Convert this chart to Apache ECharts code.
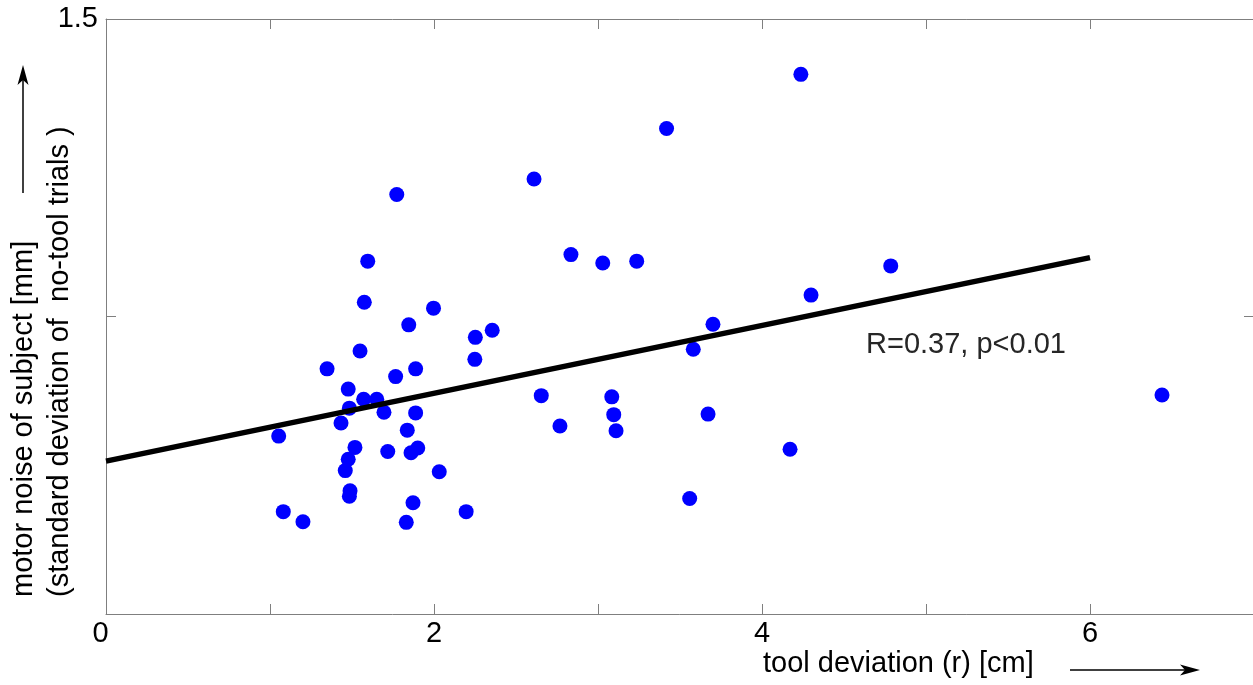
<!DOCTYPE html>
<html>
<head>
<meta charset="utf-8">
<script src="https://cdn.jsdelivr.net/npm/echarts@6/dist/echarts.min.js"></script>
<style>
  html, body { margin: 0; padding: 0; background: #fff; }
  #chart { width: 1253px; height: 685px; }
</style>
</head>
<body>
<div id="chart"></div>
<script>
// ---- Data ----
const toolDeviation = [
  1.053, 1.081, 1.201, 1.348, 1.433, 1.459, 1.477, 1.477, 1.484, 1.488,
  1.484, 1.518, 1.549, 1.575, 1.571, 1.596, 1.651, 1.695, 1.718, 1.766,
  1.773, 1.831, 1.837, 1.846, 1.860, 1.872, 1.888, 1.888, 1.901, 1.997,
  2.032, 2.196, 2.252, 2.249, 2.355, 2.610, 2.654, 2.768, 2.835, 3.029,
  3.084, 3.096, 3.110, 3.236, 3.418, 3.559, 3.581, 3.671, 3.701, 4.171,
  4.237, 4.299, 4.785, 6.439
];
const motorNoise = [
  0.799, 0.672, 0.655, 0.912, 0.821, 0.741, 0.760, 0.878, 0.846, 0.707,
  0.698, 0.780, 0.942, 1.024, 0.861, 1.093, 0.861, 0.839, 0.773, 0.899,
  1.205, 0.654, 0.809, 0.986, 0.771, 0.687, 0.912, 0.838, 0.779, 1.014,
  0.739, 0.672, 0.965, 0.928, 0.977, 1.231, 0.867, 0.816, 1.104, 1.090,
  0.865, 0.835, 0.808, 1.093, 1.316, 0.694, 0.945, 0.836, 0.987, 0.777,
  1.407, 1.036, 1.085, 0.868
];
const fitX = [0, 6];
const fitY = [0.757, 1.099];
const xTickLabels = ['0', '2', '4', '6'];
const yTickLabels = ['1.5'];
const annotation = 'R=0.37, p<0.01';
const xTitle = 'tool deviation (r) [cm]';
const yTitle = 'motor noise of subject [mm]\n(standard deviation of  no-tool trials )';

// ---- Chart ----
const FONT = "'Liberation Sans', Arial, sans-serif";
const chart = echarts.init(document.getElementById('chart'), null, { renderer: 'canvas' });

const scatterData = toolDeviation.map((x, i) => [x, motorNoise[i]]);
const fitData = fitX.map((x, i) => [x, fitY[i]]);

const axisLineStyle = { color: '#7f7f7f', width: 1 };

const option = {
  animation: false,
  backgroundColor: '#ffffff',
  grid: { left: 106, top: 19, width: 1148, height: 595, containLabel: false, outerBoundsMode: 'none' },
  xAxis: [
    {
      type: 'value', position: 'bottom', min: 0, max: 7, interval: 1,
      axisLine: { show: true, lineStyle: axisLineStyle },
      axisTick: { show: true, inside: true, length: 10, lineStyle: axisLineStyle },
      splitLine: { show: false },
      axisLabel: {
        color: '#000', fontFamily: FONT, fontSize: 29, margin: 5,
        formatter: v => {
          const s = String(v);
          if (xTickLabels.indexOf(s) < 0) return '';
          return v === 0 ? '{z|' + s + '}' : s;
        },
        rich: { z: { color: '#000', fontFamily: FONT, fontSize: 29, padding: [0, 11, 0, 0] } }
      }
    },
    {
      type: 'value', position: 'top', min: 0, max: 7, interval: 1,
      axisLine: { show: true, onZero: false, lineStyle: axisLineStyle },
      axisTick: { show: true, inside: true, length: 10, lineStyle: axisLineStyle },
      splitLine: { show: false },
      axisLabel: { show: false }
    }
  ],
  yAxis: [
    {
      type: 'value', position: 'left', min: 0.5, max: 1.5, interval: 0.5,
      axisLine: { show: true, onZero: false, lineStyle: axisLineStyle },
      axisTick: { show: true, inside: true, length: 10, lineStyle: axisLineStyle },
      splitLine: { show: false },
      axisLabel: {
        color: '#000', fontFamily: FONT, fontSize: 29, margin: 8,
        formatter: v => (yTickLabels.indexOf(v.toFixed(1)) >= 0 ? v.toFixed(1) : '')
      }
    },
    {
      type: 'value', position: 'right', min: 0.5, max: 1.5, interval: 0.5,
      axisLine: { show: true, onZero: false, lineStyle: axisLineStyle },
      axisTick: { show: true, inside: true, length: 10, lineStyle: axisLineStyle },
      splitLine: { show: false },
      axisLabel: { show: false }
    }
  ],
  series: [
    {
      type: 'scatter', xAxisIndex: 0, yAxisIndex: 0,
      data: scatterData,
      symbol: 'circle', symbolSize: 15,
      itemStyle: { color: '#0000ff', opacity: 1 },
      z: 2
    },
    {
      type: 'line', xAxisIndex: 0, yAxisIndex: 0,
      data: fitData,
      symbol: 'none',
      lineStyle: { color: '#000000', width: 5.5 },
      z: 3
    }
  ],
  graphic: [
    {
      type: 'text', x: 866, y: 345, z: 10,
      style: { text: annotation, font: '29px ' + FONT, fill: '#262626', textAlign: 'left', textVerticalAlign: 'middle' }
    },
    {
      type: 'text', x: 763, y: 664, z: 10,
      style: { text: xTitle, font: '29px ' + FONT, fill: '#000', textAlign: 'left', textVerticalAlign: 'middle' }
    },
    {
      type: 'text', x: 6, y: 597, rotation: Math.PI / 2, z: 10,
      style: { text: yTitle, font: '29px ' + FONT, fill: '#000', textAlign: 'left', textVerticalAlign: 'top', lineHeight: 36 }
    },
    // x-direction arrow
    { type: 'line', z: 10, shape: { x1: 1070, y1: 670, x2: 1186, y2: 670 }, style: { stroke: '#000', lineWidth: 1.5 } },
    { type: 'polygon', z: 10, shape: { points: [[1200, 670], [1180, 664.5], [1185, 670], [1180, 675.5]] }, style: { fill: '#000' } },
    // y-direction arrow
    { type: 'line', z: 10, shape: { x1: 23, y1: 193, x2: 23, y2: 78 }, style: { stroke: '#000', lineWidth: 1.5 } },
    { type: 'polygon', z: 10, shape: { points: [[23, 65], [28.5, 85], [23, 80], [17.5, 85]] }, style: { fill: '#000' } }
  ]
};

chart.setOption(option);
</script>
</body>
</html>
